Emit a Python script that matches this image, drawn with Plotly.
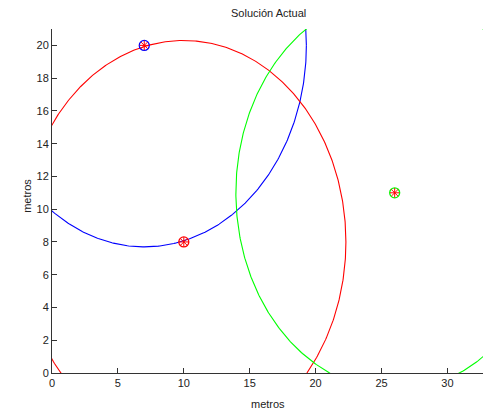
import numpy as np
import plotly.graph_objects as go

# Antenna positions (metros) and coverage radii
center_x = [7, 10, 26]
center_y = [20, 8, 11]
radius = [12.3, 12.3, 12.05]
colors = ["#0000ff", "#ff0000", "#00ff00"]

x_ticks = [0, 5, 10, 15, 20, 25, 30]
y_ticks = [0, 2, 4, 6, 8, 10, 12, 14, 16, 18, 20]

W, H = 483, 411
ml, mt, mb = 52, 29, 38
px_per_x = 13.18
x_max = (W - ml) / px_per_x

fig = go.Figure()
theta = np.linspace(0, 2 * np.pi, 721)
for cx, cy, r, c in zip(center_x, center_y, radius, colors):
    fig.add_trace(go.Scatter(
        x=cx + r * np.cos(theta), y=cy + r * np.sin(theta),
        mode="lines", line=dict(color=c, width=1.1), hoverinfo="skip"))

for cx, cy, c in zip(center_x, center_y, colors):
    fig.add_trace(go.Scatter(
        x=[cx], y=[cy], mode="markers",
        marker=dict(symbol="circle-open", size=10, color=c, line=dict(width=1.3))))
    fig.add_trace(go.Scatter(
        x=[cx], y=[cy], mode="markers",
        marker=dict(symbol="asterisk-open", size=8, color="#ff0000", line=dict(width=1, color="#ff0000"))))

axis_common = dict(showgrid=False, zeroline=False, showline=True, linecolor="#333333",
                   linewidth=1, ticks="inside", ticklen=5, tickcolor="#333333",
                   tickfont=dict(family="Liberation Sans, Arial", size=11, color="#222222"))

fig.update_layout(
    width=W, height=H,
    margin=dict(l=ml, r=0, t=mt, b=mb),
    plot_bgcolor="white", paper_bgcolor="white",
    showlegend=False,
    font=dict(family="Liberation Sans, Arial", size=11, color="#222222"),
    xaxis=dict(range=[0, x_max], tickvals=x_ticks, **axis_common),
    yaxis=dict(range=[0, 21], tickvals=y_ticks, **axis_common),
    annotations=[
        dict(text="Solución Actual", xref="paper", yref="paper",
             x=(268 - ml) / (W - ml), y=1, yshift=8, yanchor="bottom",
             showarrow=False, font=dict(size=11)),
        dict(text="metros", xref="paper", yref="paper",
             x=(268 - ml) / (W - ml), y=0, yshift=-23, yanchor="top",
             showarrow=False, font=dict(size=11)),
        dict(text="metros", xref="paper", yref="paper",
             x=0, xshift=-33, y=0.515, textangle=-90,
             showarrow=False, font=dict(size=11)),
    ],
)

fig.write_html("out.html")
